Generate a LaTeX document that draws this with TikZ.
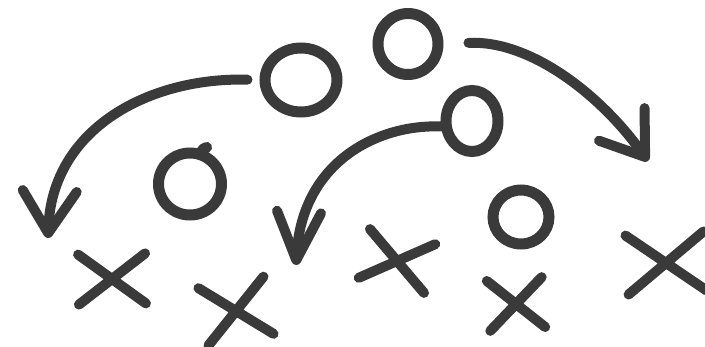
\documentclass[tikz,border=0pt]{standalone}
\usepackage{tikz}
\usetikzlibrary{arrows.meta, shapes.geometric, shapes.misc}
\definecolor{InkGray}{RGB}{58, 58, 58}

\begin{document}
\begin{tikzpicture}[x=1pt, y=-1pt,
    player/.style={ellipse, draw=InkGray, line width=11pt, inner sep=0pt},
    defender/.style={cross out, draw=InkGray, line width=10pt, line cap=round, inner sep=0pt},
    play/.style={draw=InkGray, line width=10pt, line cap=round}]
  \useasboundingbox (0,0) rectangle (705,346);

  % Offense
  \node[player, minimum width=72pt, minimum height=64pt] (o1) at (301, 80) {};
  \node[player, minimum width=60pt, minimum height=61pt] (o2) at (408, 44) {};
  \node[player, minimum width=52pt, minimum height=61pt] (o3) at (472, 121) {};
  \node[player, minimum width=63pt, minimum height=62pt] (o4) at (190, 184) {};
  \node[player, minimum width=56pt, minimum height=54pt] (o5) at (521, 217) {};
  \draw[InkGray, line width=11pt, line cap=round] (o4.70) -- ([yshift=4pt]o4.63);

  % Defense
  \node[defender, minimum width=57pt, minimum height=40pt, rotate=1] (x1) at (112, 279) {};
  \node[defender, minimum width=56pt, minimum height=48pt, rotate=10] (x2) at (236, 311) {};
  \node[defender, minimum width=57pt, minimum height=40pt, rotate=-13] (x3) at (397, 261) {};
  \node[defender, minimum width=45pt, minimum height=40pt, rotate=4] (x4) at (516, 304) {};
  \node[defender, minimum width=68pt, minimum height=49pt, rotate=3] (x5) at (666, 263) {};

  % Routes
  \coordinate (t1) at (48, 238);
  \coordinate (t2) at (648, 161);
  \coordinate (t3) at (296, 265);
  \draw[play, shorten <=12pt, -{Straight Barb[length=42pt, width=54pt, round]}]
    (o1.west) .. controls (150, 77) and (52, 128) .. (t1);
  \draw[play, shorten <=25pt, -{Straight Barb[length=40pt, width=56pt, round]}]
    (o2.east) .. controls (530, 40) and (600, 94) .. (t2);
  \draw[play, -{Straight Barb[length=48pt, width=44pt, round]}]
    (o3.190) .. controls (380, 124) and (302, 160) .. (t3);
\end{tikzpicture}
\end{document}
